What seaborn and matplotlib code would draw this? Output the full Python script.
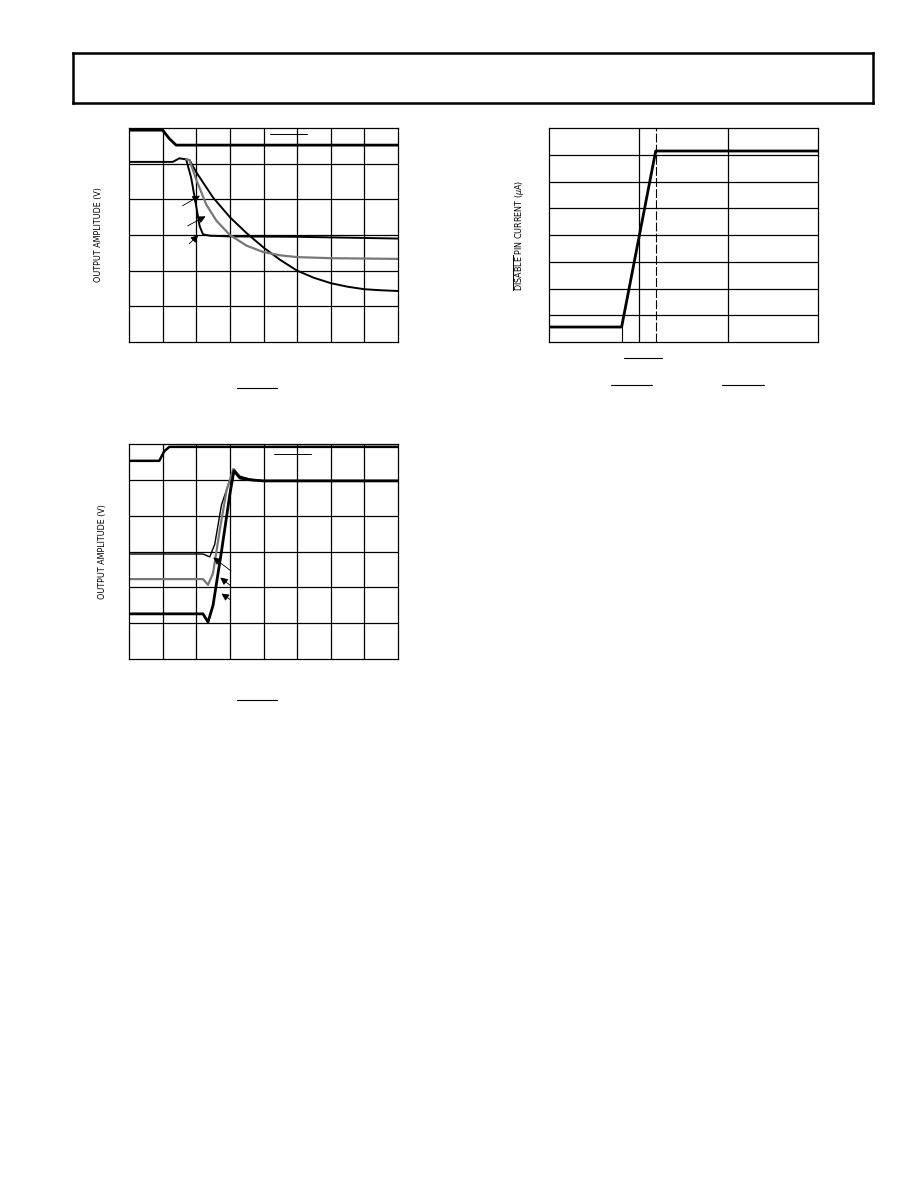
import seaborn as sns
import matplotlib.pyplot as plt
import pandas as pd

sns.set_theme(style="white")
plt.rcParams['font.family'] = ['DejaVu Sans']

# chart 1 (turn-off), grid units x 0..8, y 0..6
t1_top_x = [0, 1.0, 1.2, 1.4, 8]
t1_top_y = [5.94, 5.94, 5.7, 5.52, 5.52]
t1_fast_x = [0, 1.3, 1.5, 1.7, 1.85, 2.0, 2.1, 2.2, 2.4, 3, 5, 8]
t1_fast_y = [5.05, 5.05, 5.15, 5.12, 4.6, 3.8, 3.25, 3.02, 2.98, 2.96, 2.95, 2.9]
t1_gray_x = [1.7, 1.8, 2.0, 2.3, 2.6, 3.0, 3.5, 4.0, 4.5, 5.0, 6.0, 7.0, 8.0]
t1_gray_y = [5.12, 5.1, 4.55, 3.85, 3.4, 3.0, 2.7, 2.52, 2.43, 2.38, 2.35, 2.34, 2.33]
t1_slow_x = [1.7, 1.8, 2.0, 2.5, 3.0, 3.5, 4.0, 4.5, 5.0, 5.5, 6.0, 6.5, 7.0, 7.5, 8.0]
t1_slow_y = [5.12, 5.1, 4.76, 4.05, 3.5, 3.05, 2.65, 2.3, 2.0, 1.8, 1.65, 1.55, 1.48, 1.45, 1.43]

# chart 2 (turn-on)
t2_top_x = [0, 0.9, 1.05, 1.2, 8]
t2_top_y = [5.53, 5.53, 5.8, 5.92, 5.92]
t2_thin_x = [0, 2.2, 2.4, 2.55, 2.75, 3.0, 3.12, 3.3, 3.6, 4.0, 8]
t2_thin_y = [2.93, 2.93, 2.85, 3.2, 4.3, 5.0, 5.3, 5.1, 5.02, 4.97, 4.97]
t2_gray_x = [0, 2.2, 2.35, 2.5, 2.7, 2.9, 3.1, 3.3, 3.6, 4.0, 8]
t2_gray_y = [2.23, 2.23, 2.07, 2.4, 3.6, 4.7, 5.3, 5.05, 5.0, 4.97, 4.97]
t2_thick_x = [0, 2.2, 2.35, 2.5, 2.75, 3.0, 3.12, 3.3, 3.6, 4.0, 8]
t2_thick_y = [1.26, 1.26, 1.03, 1.5, 3.0, 4.6, 5.25, 5.05, 5.0, 4.97, 4.97]

# chart 3 (disable pin current), x 0..3, y 0..8
t3_x = [0, 0.81, 1.19, 3]
t3_y = [0.56, 0.56, 7.14, 7.14]

W, H = 918, 1188
fig = plt.figure(figsize=(W / 100, H / 100), dpi=100)


def add_ax(x0, y0, x1, y1):
    return fig.add_axes([x0 / W, 1 - y1 / H, (x1 - x0) / W, (y1 - y0) / H])


def style(ax, nx, ny):
    ax.set_xlim(0, nx)
    ax.set_ylim(0, ny)
    ax.set_xticks([])
    ax.set_yticks([])
    for i in range(1, nx):
        ax.axvline(i, color='black', lw=0.9)
    for j in range(1, ny):
        ax.axhline(j, color='black', lw=0.9)
    for s in ax.spines.values():
        s.set_color('black')
        s.set_linewidth(0.9)


def draw(ax, xs, ys, color, lw):
    sns.lineplot(data=pd.DataFrame({'x': xs, 'y': ys}), x='x', y='y', ax=ax,
                 color=color, lw=lw, estimator=None, sort=False)
    ax.set_xlabel('')
    ax.set_ylabel('')


def arrow(ax, tail, head):
    ax.annotate('', xy=head, xytext=tail,
                arrowprops=dict(arrowstyle='-|>', color='black', lw=0.6,
                                mutation_scale=11))


def ylab(x, y, s):
    fig.text(x / W, 1 - y / H, s, rotation=90, fontsize=5.8,
             ha='center', va='center', color='black')


# header box
box = fig.add_axes([73 / W, 1 - 103 / H, 800 / W, 50 / H])
box.set_xticks([]); box.set_yticks([])
for s in box.spines.values():
    s.set_linewidth(1.8); s.set_color('black')

# chart 1
ax1 = add_ax(129, 128, 398, 342)
style(ax1, 8, 6)
draw(ax1, t1_top_x, t1_top_y, 'black', 2.0)
draw(ax1, t1_fast_x, t1_fast_y, 'black', 1.4)
draw(ax1, t1_slow_x, t1_slow_y, 'black', 1.4)
draw(ax1, t1_gray_x, t1_gray_y, '#777777', 1.6)
arrow(ax1, (1.52, 3.78), (2.18, 4.14))
arrow(ax1, (1.67, 3.22), (2.35, 3.56))
arrow(ax1, (1.73, 2.70), (2.12, 3.05))
ax1.plot([4.2, 5.3], [5.82, 5.82], color='black', lw=0.7)
ylab(98, 235, 'OUTPUT AMPLITUDE (V)')

# chart 2
ax2 = add_ax(129, 444, 398, 659)
style(ax2, 8, 6)
draw(ax2, t2_top_x, t2_top_y, 'black', 1.8)
draw(ax2, t2_thin_x, t2_thin_y, 'black', 1.0)
draw(ax2, t2_gray_x, t2_gray_y, '#777777', 1.6)
draw(ax2, t2_thick_x, t2_thick_y, 'black', 2.0)
arrow(ax2, (3.1, 2.41), (2.44, 2.88))
arrow(ax2, (3.07, 2.01), (2.65, 2.32))
arrow(ax2, (3.07, 1.62), (2.68, 1.87))
ax2.plot([4.3, 5.4], [5.73, 5.73], color='black', lw=0.7)
ylab(102, 552, 'OUTPUT AMPLITUDE (V)')

# chart 3
ax3 = add_ax(549, 128, 818, 342)
style(ax3, 3, 8)
ax3.plot([0.81, 0.81], [0, 0.93], color='black', lw=0.8)
ax3.plot([1.19, 1.19], [0, 8], color='black', lw=0.8, ls=(0, (8, 2)))
draw(ax3, t3_x, t3_y, 'black', 2.0)
ylab(520, 235, r'$\overline{\mathrm{DISABLE}}$ PIN CURRENT ($\mu$A)')

# overline fragments below charts
for (x0, x1, y) in [(237, 277, 388), (237, 277, 700), (624, 662, 358),
                    (611, 652, 385), (722, 764, 385)]:
    fig.add_artist(plt.Line2D([x0 / W, x1 / W], [1 - y / H, 1 - y / H],
                              color='black', lw=0.8))

fig.savefig('out.png', dpi=100, facecolor='white')
